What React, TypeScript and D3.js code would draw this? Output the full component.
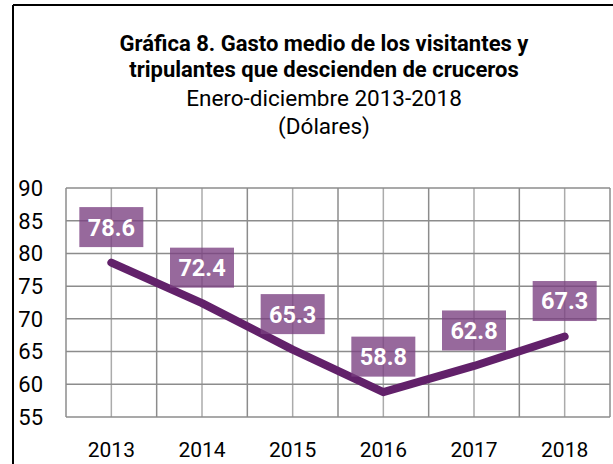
import React, { useEffect, useRef } from 'react';
import * as d3 from 'd3';

const years = ['2013', '2014', '2015', '2016', '2017', '2018'];
const gasto = [78.6, 72.4, 65.3, 58.8, 62.8, 67.3];
const yTicks = [55, 60, 65, 70, 75, 80, 85, 90];
const titleLines = ['Gráfica 8. Gasto medio de los visitantes y', 'tripulantes que descienden de cruceros'];
const subtitleLines = ['Enero-diciembre 2013-2018', '(Dólares)'];

const W = 613;
const H = 464;

const App = () => {
  const ref = useRef<SVGSVGElement | null>(null);

  useEffect(() => {
    const svg = d3.select(ref.current);
    svg.selectAll('*').remove();

    const margin = { top: 188, right: 3, bottom: 47, left: 66 };
    const width = W - margin.left - margin.right;
    const height = H - margin.top - margin.bottom;
    const font = 'Roboto, sans-serif';

    // frame (left + top only visible)
    svg.append('line').attr('x1', 13).attr('y1', 5).attr('x2', 13).attr('y2', H)
      .attr('stroke', '#000').attr('stroke-width', 2);
    svg.append('line').attr('x1', 13).attr('y1', 5).attr('x2', W).attr('y2', 5)
      .attr('stroke', '#000').attr('stroke-width', 2);

    // titles
    const cx = 324;
    titleLines.forEach((t, i) => {
      svg.append('text').attr('x', cx).attr('y', 51 + i * 26)
        .attr('text-anchor', 'middle').attr('font-family', font)
        .attr('font-weight', 700).attr('font-size', 22).attr('fill', '#000').text(t);
    });
    subtitleLines.forEach((t, i) => {
      svg.append('text').attr('x', cx).attr('y', 106 + i * 28)
        .attr('text-anchor', 'middle').attr('font-family', font)
        .attr('font-size', 22.5).attr('fill', '#000').text(t);
    });

    const g = svg.append('g').attr('transform', `translate(${margin.left},${margin.top})`);

    const x = d3.scaleBand().domain(years).range([0, width]);
    const y = d3.scaleLinear().domain([55, 90]).range([height, 0]);

    // minor vertical lines at category centers
    g.selectAll('line.minor').data(years).enter().append('line')
      .attr('class', 'minor')
      .attr('x1', d => x(d)! + x.bandwidth() / 2).attr('x2', d => x(d)! + x.bandwidth() / 2)
      .attr('y1', 0).attr('y2', height)
      .attr('stroke', '#ababab').attr('stroke-width', 1.5);

    // major vertical lines at category boundaries
    const bounds = years.map(d => x(d)!).concat([width]);
    g.selectAll('line.vmajor').data(bounds).enter().append('line')
      .attr('class', 'vmajor')
      .attr('x1', d => d).attr('x2', d => d).attr('y1', 0).attr('y2', height)
      .attr('stroke', '#8c8c8c').attr('stroke-width', 1.5);

    // horizontal grid
    g.selectAll('line.h').data(yTicks).enter().append('line')
      .attr('class', 'h')
      .attr('x1', 0).attr('x2', width).attr('y1', d => y(d)).attr('y2', d => y(d))
      .attr('stroke', '#8c8c8c').attr('stroke-width', 1.5);

    // y labels
    g.selectAll('text.yl').data(yTicks).enter().append('text')
      .attr('class', 'yl')
      .attr('x', -23).attr('y', d => y(d)).attr('dy', '0.36em')
      .attr('text-anchor', 'end').attr('font-family', font).attr('font-size', 22)
      .attr('fill', '#000').text(d => d);

    // x labels
    g.selectAll('text.xl').data(years).enter().append('text')
      .attr('class', 'xl')
      .attr('x', d => x(d)! + x.bandwidth() / 2).attr('y', height + 40)
      .attr('text-anchor', 'middle').attr('font-family', font).attr('font-size', 21)
      .attr('fill', '#000').text(d => d);

    // line
    const line = d3.line<number>()
      .x((d, i) => x(years[i])! + x.bandwidth() / 2)
      .y(d => y(d));
    g.append('path').datum(gasto).attr('d', line)
      .attr('fill', 'none').attr('stroke', '#62216a').attr('stroke-width', 8)
      .attr('stroke-linecap', 'round').attr('stroke-linejoin', 'round');

    // data labels
    const lab = g.selectAll('g.lab').data(gasto).enter().append('g')
      .attr('class', 'lab')
      .attr('transform', (d, i) => `translate(${x(years[i])! + x.bandwidth() / 2},${y(d) - 35.5})`);
    lab.append('rect').attr('x', -32).attr('y', -20).attr('width', 64).attr('height', 40)
      .attr('fill', '#7a3f80').attr('fill-opacity', 0.78);
    lab.append('text').attr('y', 0).attr('dy', '0.36em').attr('text-anchor', 'middle')
      .attr('font-family', font).attr('font-weight', 700).attr('font-size', 23.5)
      .attr('fill', '#fff').text(d => d.toFixed(1));
  }, []);

  return (
    <svg ref={ref} width={W} height={H}
      style={{ position: 'absolute', left: 0, top: 0, background: '#fff' }} />
  );
};

export default App;
